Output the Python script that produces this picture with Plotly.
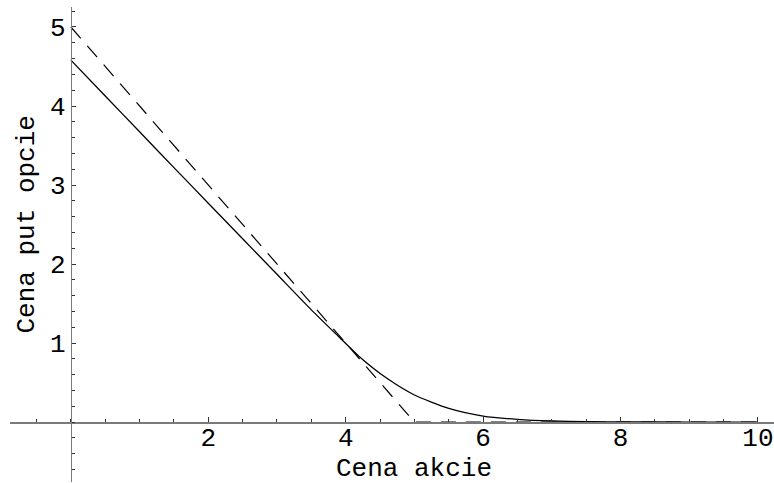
import plotly.graph_objects as go

# Stock price (x) and put option price (solid curve)
stock_price = [0.0, 0.5, 1.0, 1.5, 2.0, 2.5, 3.0, 3.5, 3.9, 4.2, 4.6, 5.0, 5.5, 6.0, 6.5, 7.0, 7.5, 8.0, 9.0, 10.0]
put_price = [4.58, 4.127, 3.674, 3.22, 2.77, 2.32, 1.87, 1.42, 1.08, 0.827, 0.553, 0.342, 0.173, 0.076, 0.034, 0.013, 0.005, 0.002, 0.0, 0.0]

# Payoff at expiry (dashed)
payoff_x = [0.0, 5.0, 10.0]
payoff_y = [5.0, 0.0, 0.0]

x_ticks = [2, 4, 6, 8, 10]
y_ticks = [1, 2, 3, 4, 5]

x_title = "Cena akcie"
y_title = "Cena put opcie"

W, H = 774, 483
ML, MR, MT, MB = 10, 0, 7, 1
XMIN, XMAX = -0.886, 10.234
YMIN, YMAX = -0.759, 5.253

FONT = "Liberation Mono"
FS = 26

fig = go.Figure()
fig.add_trace(go.Scatter(x=payoff_x, y=payoff_y, mode="lines",
                         line=dict(color="black", width=1.2, dash="15px,10px"),
                         hoverinfo="skip", showlegend=False))
fig.add_trace(go.Scatter(x=stock_price, y=put_price, mode="lines",
                         line=dict(color="black", width=1.3, shape="spline", smoothing=0.6),
                         showlegend=False))

xpos = (0 - YMIN) / (YMAX - YMIN)
ypos = (0 - XMIN) / (XMAX - XMIN)

# page-pixel helpers for annotations
def paper_x(px):
    return (px - ML) / (W - ML - MR)

def paper_y(py):
    return (H - MB - py) / (H - MT - MB)

fig.update_layout(
    width=W, height=H,
    margin=dict(l=ML, r=MR, t=MT, b=MB),
    paper_bgcolor="white", plot_bgcolor="white",
    font=dict(family=FONT, size=FS, color="black"),
    xaxis=dict(range=[XMIN, XMAX], anchor="free", position=xpos,
               showgrid=False, zeroline=False, showline=True,
               linecolor="#7a7a7a", linewidth=1.5,
               tickmode="array", tickvals=x_ticks, ticktext=[str(v) for v in x_ticks],
               ticks="inside", ticklen=5, tickwidth=1, tickcolor="#333",
               ticklabelstandoff=-9,
               tickfont=dict(family=FONT, size=FS, color="black"),
               minor=dict(tickmode="linear", tick0=0, dtick=0.5, ticks="inside",
                          ticklen=3, tickwidth=1, tickcolor="#333", showgrid=False),
               automargin=False, fixedrange=True),
    yaxis=dict(range=[YMIN, YMAX], anchor="free", position=ypos,
               showgrid=False, zeroline=False, showline=True,
               linecolor="#7a7a7a", linewidth=1.5,
               tickmode="array", tickvals=y_ticks, ticktext=[str(v) for v in y_ticks],
               ticks="inside", ticklen=4, tickwidth=1, tickcolor="#333",
               tickfont=dict(family=FONT, size=FS, color="black"),
               minor=dict(tickmode="linear", tick0=0, dtick=0.2, ticks="inside",
                          ticklen=3, tickwidth=1, tickcolor="#333", showgrid=False),
               automargin=False, fixedrange=True),
    annotations=[
        dict(text=x_title, xref="x", yref="paper", x=5, y=paper_y(469),
             showarrow=False, xanchor="center", yanchor="middle",
             font=dict(family=FONT, size=FS, color="black")),
        dict(text=y_title, xref="paper", yref="y", x=paper_x(27), y=2.5,
             showarrow=False, xanchor="center", yanchor="middle", textangle=-90,
             font=dict(family=FONT, size=FS, color="black")),
    ],
)

fig.write_html("out.html",
               config={"displayModeBar": False, "staticPlot": True},
               post_script="document.body.style.margin='0';document.body.style.overflow='hidden';")
